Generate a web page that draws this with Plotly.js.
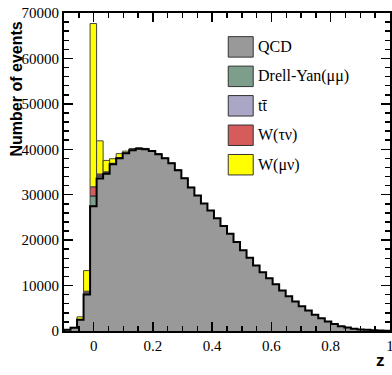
<!DOCTYPE html>
<html>
<head>
<meta charset="utf-8">
<script src="https://cdn.plot.ly/plotly-3.0.1.min.js"></script>
<style>html,body{margin:0;padding:0;background:#fff;}#chart{width:392px;height:375px;}</style>
</head>
<body>
<div id="chart"></div>
<script>
// Histogram binning: 50 bins from -0.1 to 1.0
const binLow = -0.1;
const binWidth = 0.022;
const nBins = 50;

// Stacked components (events per bin)
const qcd = [300, 700, 2450, 8030, 27470, 33560, 34600, 36700, 38000, 39100,
             39800, 40100, 40000, 39600, 38900, 38000, 36900, 35400, 33600, 31600,
             29800, 28070, 26520, 24800, 23100, 21400, 19600, 17800, 16100, 14400,
             12950, 11600, 10300, 8900, 7650, 6500, 5450, 4500, 3600, 2800,
             2100, 1550, 1050, 750, 520, 330, 250, 170, 100, 50];
const drellYan = [0, 0, 50, 370, 2200, 550, 250, 120, 80, 50,
                  40, 30, 20, 20, 10, 0, 0, 0, 0, 0,
                  0, 0, 0, 0, 0, 0, 0, 0, 0, 0,
                  0, 0, 0, 0, 0, 0, 0, 0, 0, 0,
                  0, 0, 0, 0, 0, 0, 0, 0, 0, 0];
const ttbar = [0, 0, 0, 0, 100, 50, 0, 0, 0, 0,
               0, 0, 0, 0, 0, 0, 0, 0, 0, 0,
               0, 0, 0, 0, 0, 0, 0, 0, 0, 0,
               0, 0, 0, 0, 0, 0, 0, 0, 0, 0,
               0, 0, 0, 0, 0, 0, 0, 0, 0, 0];
const wTauNu = [0, 0, 40, 360, 1970, 400, 200, 100, 60, 40,
                30, 20, 20, 10, 10, 0, 0, 0, 0, 0,
                0, 0, 0, 0, 0, 0, 0, 0, 0, 0,
                0, 0, 0, 0, 0, 0, 0, 0, 0, 0,
                0, 0, 0, 0, 0, 0, 0, 0, 0, 0];
const wMuNu = [30, 100, 580, 4540, 35940, 7300, 2500, 1000, 900, 400,
               300, 200, 150, 100, 80, 60, 40, 30, 20, 10,
               0, 0, 0, 0, 0, 0, 0, 0, 0, 0,
               0, 0, 0, 0, 0, 0, 0, 0, 0, 0,
               0, 0, 0, 0, 0, 0, 0, 0, 0, 0];

const legendNames = ['QCD', 'Drell-Yan(\u03bc\u03bc)', 'tt\u0304', 'W(\u03c4\u03bd)', 'W(\u03bc\u03bd)'];
const colors = ['#999999', '#7c9e8b', '#aaa6c5', '#d65b5b', '#ffff00'];

const xTickVals = [0, 0.2, 0.4, 0.6, 0.8, 1];
const xTickText = ['0', '0.2', '0.4', '0.6', '0.8', '1'];
const yTickVals = [0, 10000, 20000, 30000, 40000, 50000, 60000, 70000];
const yTickText = ['0', '10000', '20000', '30000', '40000', '50000', '60000', '70000'];

// ---- build traces ----
const edges = [];
for (let i = 0; i <= nBins; i++) edges.push(+(binLow + i * binWidth).toFixed(6));
const centers = edges.slice(0, nBins).map((e) => e + binWidth / 2);

// QCD as a filled step outline
const stepX = [edges[0]].concat(edges.slice(0, nBins), [edges[nBins]]);
const stepY = [0].concat(qcd, [0]);
const traces = [{
  type: 'scatter', mode: 'lines', x: stepX, y: stepY,
  line: {shape: 'hv', color: '#000', width: 2},
  fill: 'tozeroy', fillcolor: colors[0], showlegend: false, hoverinfo: 'skip'
}];

const others = [drellYan, ttbar, wTauNu, wMuNu];
let base = qcd.slice();
others.forEach((vals, k) => {
  traces.push({
    type: 'bar', x: centers, y: vals.map((v) => v > 0 ? v : null),
    base: base.slice(), width: binWidth,
    marker: {color: colors[k + 1], line: {color: '#444', width: 1}},
    showlegend: false, hoverinfo: 'skip'
  });
  base = base.map((b, i) => b + vals[i]);
});

// ---- manual legend (large boxes like the original) ----
const SERIF = '"Liberation Serif", "DejaVu Serif", serif';
const SANS = '"Liberation Sans", "DejaVu Sans", sans-serif';
const L = 63.5, R = 390, T = 13, B = 331.5;
const px2x = (px) => (px - L) / (R - L);
const px2y = (py) => (B - py) / (B - T);
const shapes = [];
const annotations = [];
const rowTop0 = 36.7, rowStep = 29.5, boxH = 20.5;
legendNames.forEach((name, k) => {
  const top = rowTop0 + k * rowStep;
  shapes.push({type: 'rect', xref: 'paper', yref: 'paper',
    x0: px2x(228), x1: px2x(253), y0: px2y(top + boxH), y1: px2y(top),
    fillcolor: colors[k], line: {color: '#333', width: 1}});
  annotations.push({xref: 'paper', yref: 'paper', x: px2x(256), y: px2y(top + boxH / 2),
    xanchor: 'left', yanchor: 'middle', showarrow: false, text: name,
    font: {family: SERIF, size: 16, color: '#000'}});
});
annotations.push({xref: 'paper', yref: 'paper', x: px2x(16), y: px2y(89),
  xanchor: 'center', yanchor: 'middle', textangle: -90, showarrow: false,
  text: '<b>Number of events</b>',
  font: {family: SANS, size: 16, color: '#000'}});
annotations.push({xref: 'paper', yref: 'paper', x: px2x(387), y: px2y(373),
  xanchor: 'right', yanchor: 'bottom', showarrow: false, text: '<b>z</b>',
  font: {family: SANS, size: 17, color: '#000'}});

const tickFont = {family: SERIF, size: 15, color: '#000'};
const layout = {
  width: 392, height: 375,
  margin: {l: L, r: 392 - R, t: T, b: 375 - B, pad: 0},
  paper_bgcolor: '#fff', plot_bgcolor: '#fff',
  showlegend: false, barmode: 'overlay', bargap: 0,
  xaxis: {range: [-0.1, 1.0], tickmode: 'array', tickvals: xTickVals, ticktext: xTickText,
    ticks: 'inside', ticklen: 9, tickwidth: 1.5, tickcolor: '#000', ticklabeloverflow: 'allow',
    minor: {dtick: 0.05, tick0: 0, ticks: 'inside', ticklen: 5, tickwidth: 1.5, tickcolor: '#000', showgrid: false},
    showline: true, linecolor: '#000', linewidth: 2, mirror: 'ticks',
    showgrid: false, zeroline: false, tickfont: tickFont},
  yaxis: {range: [0, 70000], tickmode: 'array', tickvals: yTickVals, ticktext: yTickText,
    ticks: 'inside', ticklen: 9, tickwidth: 1.5, tickcolor: '#000', ticklabeloverflow: 'allow',
    ticklabelstandoff: 0,
    minor: {dtick: 2000, tick0: 0, ticks: 'inside', ticklen: 5, tickwidth: 1.5, tickcolor: '#000', showgrid: false},
    showline: true, linecolor: '#000', linewidth: 2, mirror: 'ticks',
    showgrid: false, zeroline: false, tickfont: tickFont},
  shapes: shapes, annotations: annotations
};
Plotly.newPlot('chart', traces, layout, {displayModeBar: false, staticPlot: true});
</script>
</body>
</html>
